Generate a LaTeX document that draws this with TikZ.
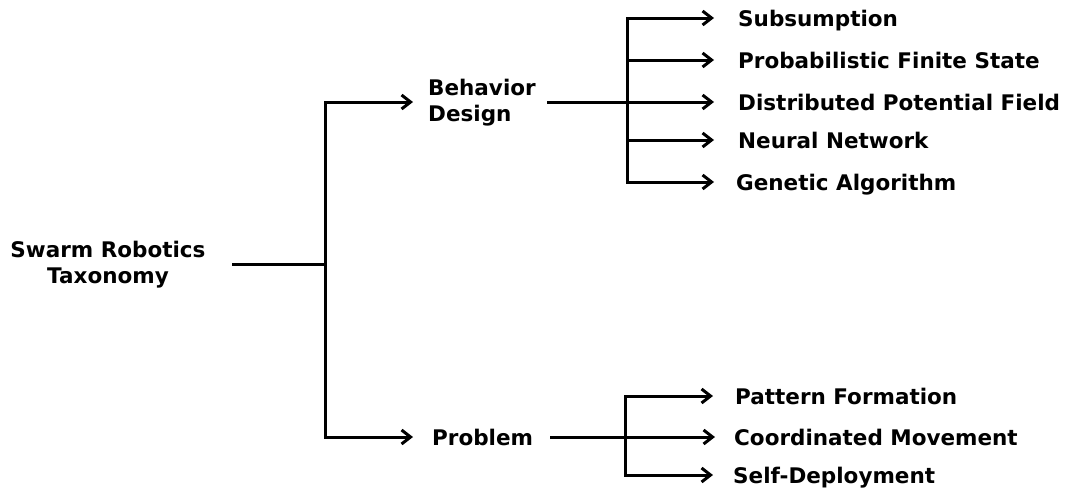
\documentclass[tikz,border=0pt]{standalone}
\usepackage{fontspec}
\setmainfont{DejaVu Sans}
\usetikzlibrary{arrows.meta}
\begin{document}
\begin{tikzpicture}[x=1pt,y=-1pt,
  lbl/.style={font=\bfseries\fontsize{21.5}{25.5}\selectfont, inner sep=0pt, text height=20pt, text depth=3pt},
  lbltwo/.style={lbl, text height=41.5pt, text depth=3pt},
  conn/.style={line width=3pt, line join=miter},
  arr/.style={conn, -{Straight Barb[length=9pt,width=14pt,line width=3pt]}}]
\useasboundingbox (0,0) rectangle (1067,491);
% nodes
\node[lbltwo, align=center] (root) at (108,264) {Swarm Robotics\\Taxonomy};
\node[lbltwo, align=left, anchor=west] (bd) at (428,102) {Behavior\\Design};
\node[lbl, anchor=west] (prob) at (432,437) {Problem};
\node[lbl, anchor=west] (l1) at (738,18) {Subsumption};
\node[lbl, anchor=west] (l2) at (738,60) {Probabilistic Finite State};
\node[lbl, anchor=west] (l3) at (738,102) {Distributed Potential Field};
\node[lbl, anchor=west] (l4) at (738,140) {Neural Network};
\node[lbl, anchor=west] (l5) at (736,182) {Genetic Algorithm};
\node[lbl, anchor=west] (p1) at (735,396) {Pattern Formation};
\node[lbl, anchor=west] (p2) at (734,437) {Coordinated Movement};
\node[lbl, anchor=west] (p3) at (733,475) {Self-Deployment};
% junctions
\coordinate (rj) at (325,264);
\coordinate (bj) at (627,102);
\coordinate (pj) at (625,437);
% connectors
\draw[conn] (root.east -| 232,0) -- (rj);
\draw[arr, shorten >=15pt] (rj) |- (bd.west);
\draw[arr, shorten >=19pt] (rj) |- (prob.west);
\draw[arr, shorten >=24pt] (bd.east -| 547,0) -- (l3.west);
\draw[arr, shorten >=24pt] (bj) |- (l1.west);
\draw[arr, shorten >=24pt] (bj) |- (l2.west);
\draw[arr, shorten >=24pt] (bj) |- (l4.west);
\draw[arr, shorten >=22pt] (bj) |- (l5.west);
\draw[arr, shorten >=19pt] (prob.east -| 550,0) -- (p2.west);
\draw[arr, shorten >=22pt] (pj) |- (p1.west);
\draw[arr, shorten >=20pt] (pj) |- (p3.west);
\end{tikzpicture}
\end{document}
